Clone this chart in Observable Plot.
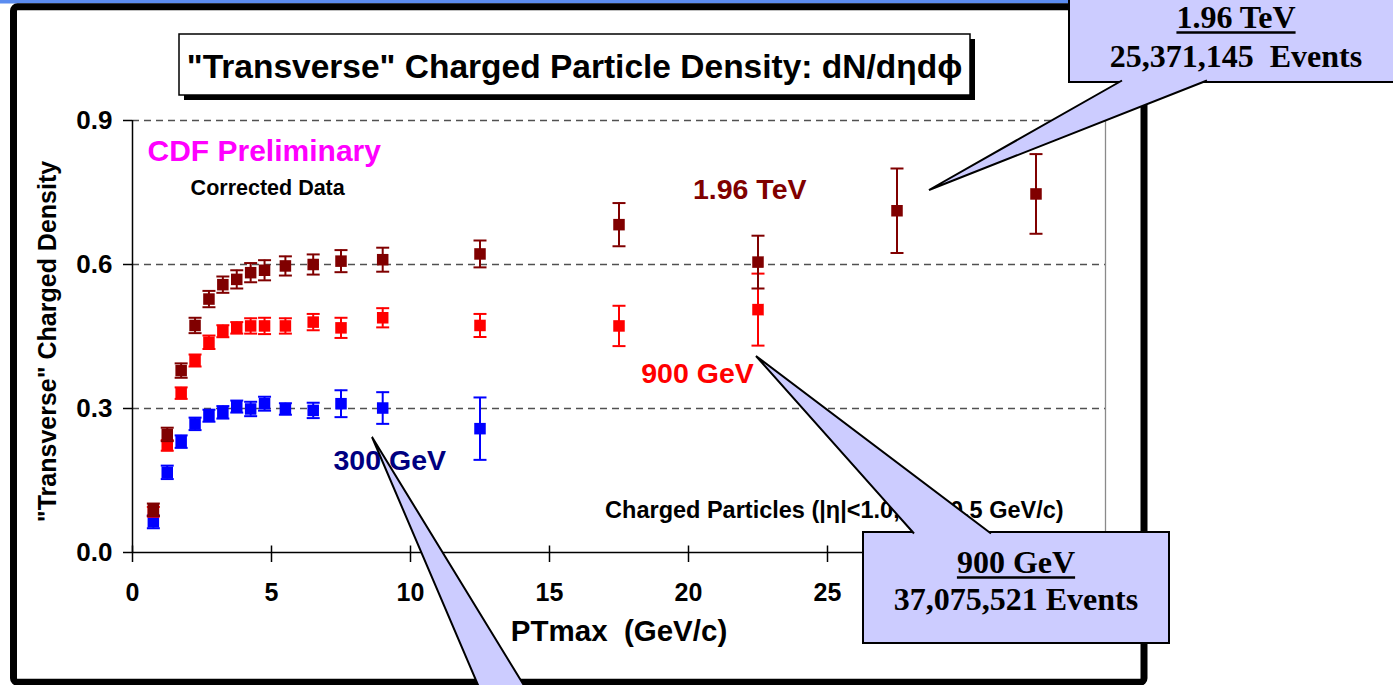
<!DOCTYPE html>
<html>
<head>
<meta charset="utf-8">
<script src="https://cdn.jsdelivr.net/npm/d3@7"></script>
<script src="https://cdn.jsdelivr.net/npm/@observablehq/plot@0.6"></script>
<style>
  html, body { margin: 0; padding: 0; background: #fff; }
  #chart { position: relative; width: 1393px; height: 685px; overflow: hidden; }
</style>
</head>
<body>
<div id="chart"></div>
<script>
// ---------------- data ----------------
const seriesNames  = ["1.96 TeV", "900 GeV", "300 GeV"];
const seriesColors = ["#800000", "#ff0000", "#0000ff"];

const pt1960   = [0.75, 1.25, 1.75, 2.25, 2.75, 3.25, 3.75, 4.25, 4.75, 5.5, 6.5, 7.5, 9, 12.5, 17.5, 22.5, 27.5, 32.5];
const dens1960 = [0.089, 0.246, 0.379, 0.473, 0.528, 0.558, 0.569, 0.583, 0.588, 0.597, 0.600, 0.607, 0.610, 0.622, 0.683, 0.605, 0.712, 0.747];
const err1960  = [0.013, 0.014, 0.015, 0.016, 0.017, 0.017, 0.019, 0.020, 0.021, 0.020, 0.021, 0.023, 0.025, 0.028, 0.045, 0.055, 0.088, 0.083];

const pt900    = [0.75, 1.25, 1.75, 2.25, 2.75, 3.25, 3.75, 4.25, 4.75, 5.5, 6.5, 7.5, 9, 12.5, 17.5, 22.5];
const dens900  = [0.085, 0.223, 0.332, 0.400, 0.438, 0.461, 0.468, 0.472, 0.472, 0.472, 0.480, 0.468, 0.489, 0.473, 0.472, 0.506];
const err900   = [0.010, 0.011, 0.012, 0.0125, 0.014, 0.0125, 0.012, 0.016, 0.017, 0.016, 0.017, 0.021, 0.020, 0.024, 0.042, 0.075];

const pt300    = [0.75, 1.25, 1.75, 2.25, 2.75, 3.25, 3.75, 4.25, 4.75, 5.5, 6.5, 7.5, 9, 12.5];
const dens300  = [0.064, 0.167, 0.231, 0.268, 0.285, 0.292, 0.304, 0.299, 0.310, 0.299, 0.296, 0.310, 0.301, 0.258];
const err300   = [0.0135, 0.014, 0.013, 0.013, 0.0125, 0.013, 0.0125, 0.015, 0.0145, 0.012, 0.016, 0.028, 0.033, 0.065];

const xTicks = [0, 5, 10, 15, 20, 25, 30, 35];
const xTickLabels = ["0", "5", "10", "15", "20", "25", "", ""]; // 30 and 35 sit under the 900 GeV callout
const yTicks = [0.0, 0.3, 0.6, 0.9];

const titleText  = "\"Transverse\" Charged Particle Density: dN/d\u03b7d\u03d5";
const xLabel     = "PTmax\u00a0 (GeV/c)";
const yLabel     = "\"Transverse\" Charged Density";
const prelimText = "CDF Preliminary";
const corrText   = "Corrected Data";
const cutText    = "Charged Particles (|\u03b7|<1.0, PT>0.5 GeV/c)";
const box1960    = ["1.96 TeV", "25,371,145\u00a0 Events"];
const box900     = ["900 GeV", "37,075,521 Events"];

// ---------------- build table ----------------
const seriesData = [
  {name: seriesNames[0], x: pt1960, y: dens1960, e: err1960},
  {name: seriesNames[1], x: pt900,  y: dens900,  e: err900},
  {name: seriesNames[2], x: pt300,  y: dens300,  e: err300}
];
const rowsOf = s => s.x.map((x, i) => ({series: s.name, x, y: s.y[i], e: s.e[i]}));

const W = 1393, H = 685;
const sans = "'Liberation Sans', Arial, sans-serif";
const serif = "'Liberation Serif', 'Times New Roman', serif";

const capSymbol  = {draw(ctx) { ctx.moveTo(-6.5, 0); ctx.lineTo(6.5, 0); }};
const upTick     = {draw(ctx) { ctx.moveTo(0, -7); ctx.lineTo(0, 0); }};

const dataMarks = [];
// draw order: 300 GeV, 900 GeV, 1.96 TeV
for (const s of [seriesData[2], seriesData[1], seriesData[0]]) {
  const rows = rowsOf(s);
  dataMarks.push(
    Plot.ruleX(rows, {x: "x", y1: d => d.y - d.e, y2: d => d.y + d.e, stroke: "series", strokeWidth: 2}),
    Plot.dot(rows, {x: "x", y: d => d.y + d.e, symbol: capSymbol, stroke: "series", strokeWidth: 2, r: 3}),
    Plot.dot(rows, {x: "x", y: d => d.y - d.e, symbol: capSymbol, stroke: "series", strokeWidth: 2, r: 3}),
    Plot.dot(rows, {x: "x", y: "y", symbol: "square", fill: "series", r: 6.5})
  );
}

const plot = Plot.plot({
  width: W,
  height: H,
  marginLeft: 132,
  marginRight: 288,
  marginTop: 120,
  marginBottom: 133,
  style: {background: "transparent", fontFamily: sans, fontWeight: "bold", color: "#000", overflow: "visible"},
  x: {domain: [0, 35]},
  y: {domain: [0, 0.9]},
  color: {domain: seriesNames, range: seriesColors},
  marks: [
    Plot.ruleY(yTicks.filter(d => d > 0), {stroke: "#505050", strokeWidth: 1.3, strokeDasharray: "7,5"}),
    Plot.ruleX([35], {stroke: "#8a8a8a", strokeWidth: 1.3}),
    Plot.ruleX([0], {stroke: "#000", strokeWidth: 1.5}),
    Plot.ruleY([0], {stroke: "#000", strokeWidth: 1.5}),
    Plot.axisY({ticks: yTicks, tickFormat: d3.format(".1f"), tickSize: 9, tickPadding: 11,
                fontSize: 26, fontWeight: "bold", label: null, strokeWidth: 1.5}),
    Plot.axisX({ticks: xTicks, tickFormat: d => xTickLabels[xTicks.indexOf(d)], tickSize: 10, tickPadding: 21,
                fontSize: 25, fontWeight: "bold", label: null, strokeWidth: 1.5}),
    Plot.dot(xTicks, {x: d => d, y: () => 0, symbol: upTick, stroke: "#000", strokeWidth: 1.5, r: 3}),
    ...dataMarks,
    // in-chart labels
    Plot.text([prelimText], {x: () => 0.54, y: () => 0.835, textAnchor: "start", fill: "#ff00ff", fontSize: 30, fontWeight: "bold"}),
    Plot.text([corrText], {x: () => 2.09, y: () => 0.759, textAnchor: "start", fill: "#000", fontSize: 21.5, fontWeight: "bold"}),
    Plot.text([seriesNames[0]], {x: () => 20.16, y: () => 0.756, textAnchor: "start", fill: "#800000", fontSize: 28.5, fontWeight: "bold"}),
    Plot.text([seriesNames[1]], {x: () => 18.3, y: () => 0.373, textAnchor: "start", fill: "#ff0000", fontSize: 28.5, fontWeight: "bold"}),
    Plot.text([seriesNames[2]], {x: () => 7.23, y: () => 0.19, textAnchor: "start", fill: "#000080", fontSize: 28.5, fontWeight: "bold"}),
    Plot.text([cutText], {x: () => 17.0, y: () => 0.0875, textAnchor: "start", fill: "#000", fontSize: 23.5, fontWeight: "bold"}),
    // axis titles
    Plot.text([xLabel], {frameAnchor: "bottom", textAnchor: "middle", dy: 88, fill: "#000", fontSize: 29.5, fontWeight: "bold"}),
    Plot.text([yLabel], {frameAnchor: "left", textAnchor: "middle", rotate: -90, dx: -85, dy: 5, fill: "#000", fontSize: 25, fontWeight: "bold"})
  ]
});

document.getElementById("chart").appendChild(plot);

// ---------------- decorations ----------------
const svg = d3.select(plot);
svg.insert("rect", ":first-child").attr("x", 0).attr("y", 0).attr("width", W).attr("height", 3.5).attr("fill", "#5b8cf0");
svg.insert("rect", ":first-child").attr("x", 0).attr("y", 0).attr("width", W).attr("height", H).attr("fill", "#fff");

const deco = svg.append("g");
// slide frame
deco.append("rect").attr("x", 13.5).attr("y", 6.8).attr("width", 1130.5).attr("height", 675.5)
  .attr("rx", 4).attr("fill", "none").attr("stroke", "#000").attr("stroke-width", 7);

// title box with shadow
deco.append("rect").attr("x", 184).attr("y", 39).attr("width", 791).attr("height", 61).attr("fill", "#000");
deco.append("rect").attr("x", 179).attr("y", 34).attr("width", 791).attr("height", 61)
  .attr("fill", "#fff").attr("stroke", "#000").attr("stroke-width", 1.5);
deco.append("text").attr("x", 574.5).attr("y", 77.5).attr("text-anchor", "middle")
  .attr("font-family", sans).attr("font-weight", "bold").attr("font-size", 33.5).attr("fill", "#000")
  .text(titleText);

const lav = "#ccccff";
function wedge(tip, b1, b2) {
  deco.append("polygon").attr("points", [tip, b1, b2].map(p => p.join(",")).join(" "))
    .attr("fill", lav).attr("stroke", "none");
  deco.append("polyline").attr("points", [b1, tip, b2].map(p => p.join(",")).join(" "))
    .attr("fill", "none").attr("stroke", "#000").attr("stroke-width", 2).attr("stroke-linejoin", "miter");
}
function callout(bx, by, bw, bh, tip, b1, b2, baseY, cx, lines, baselines, underlineY) {
  deco.append("rect").attr("x", bx).attr("y", by).attr("width", bw).attr("height", bh)
    .attr("fill", lav).attr("stroke", "#000").attr("stroke-width", 2);
  wedge(tip, [b1, baseY], [b2, baseY]);
  lines.forEach((t, i) => {
    const tx = deco.append("text").attr("x", cx).attr("y", baselines[i]).attr("text-anchor", "middle")
      .attr("font-family", serif).attr("font-weight", "bold").attr("font-size", 32).attr("fill", "#000")
      .text(t);
    if (i === 0) {
      const w = tx.node().getComputedTextLength();
      deco.append("line").attr("x1", cx - w / 2).attr("x2", cx + w / 2)
        .attr("y1", underlineY).attr("y2", underlineY).attr("stroke", "#000").attr("stroke-width", 2.5);
    }
  });
}

// 300 GeV pointer (its box is below the slide)
wedge([372, 437], [481, 692], [528, 692]);
// 1.96 TeV callout (pointer leaves the bottom edge of the box)
callout(1069, -10, 400, 92, [929, 190], 1122, 1207, 80.5, 1236, box1960, [28, 67], 32.5);
// 900 GeV callout (pointer leaves the top edge of the box)
callout(863, 532, 306, 111, [756, 356], 914, 991, 533.5, 1016, box900, [573, 610], 577.5);
</script>
</body>
</html>
